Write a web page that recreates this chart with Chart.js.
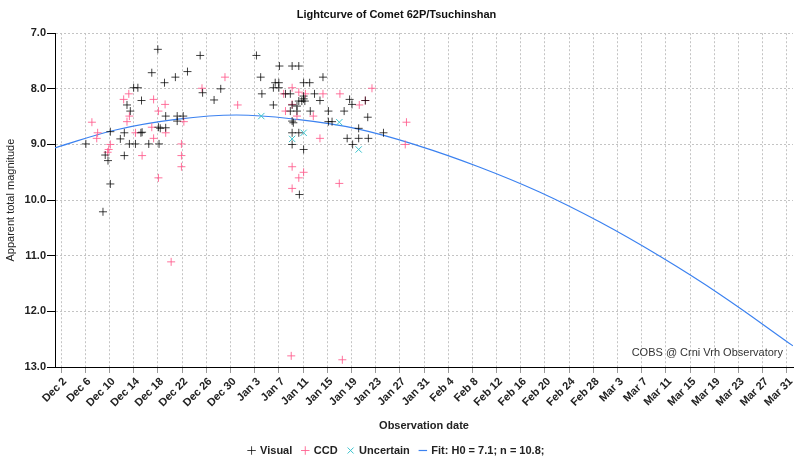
<!DOCTYPE html>
<html>
<head>
<meta charset="utf-8">
<script src="https://cdn.jsdelivr.net/npm/chart.js@4.4.1/dist/chart.umd.min.js"></script>
<style>
  html, body { margin: 0; padding: 0; background: #fff; }
  #wrap { width: 800px; height: 466px; }
</style>
</head>
<body>
<div id="wrap"><canvas id="lightcurve"></canvas></div>
<script>
// days counted from Dec 1 (day 0) to Apr 1 (day 122)
const xTickDays = [1, 5, 9, 13, 17, 21, 25, 29, 33, 37, 41, 45, 49, 53, 57, 61,
    65, 69, 73, 77, 81, 85, 89, 93, 97, 101, 105, 109, 113, 117, 121];
const xTickLabels = ['Dec 2', 'Dec 6', 'Dec 10', 'Dec 14', 'Dec 18', 'Dec 22', 'Dec 26', 'Dec 30',
    'Jan 3', 'Jan 7', 'Jan 11', 'Jan 15', 'Jan 19', 'Jan 23', 'Jan 27', 'Jan 31',
    'Feb 4', 'Feb 8', 'Feb 12', 'Feb 16', 'Feb 20', 'Feb 24', 'Feb 28',
    'Mar 3', 'Mar 7', 'Mar 11', 'Mar 15', 'Mar 19', 'Mar 23', 'Mar 27', 'Mar 31'];

const visualDays = [16.0, 13.0, 13.7, 14.3, 11.9, 12.45, 9.15, 11.46, 14.2, 14.4, 10.8, 5.1, 12.3, 13.3,
    15.5, 8.3, 11.46, 8.76, 9.15, 7.93,
    17.0, 24.0, 19.9, 21.9, 18.1, 24.4, 27.4, 26.3, 18.3, 20.2, 21.2, 20.2, 17.1, 17.4, 18.3, 17.2,
    33.3, 34.0, 34.2, 36.1,
    37.1, 39.2, 40.3, 44.3, 36.4, 37.0, 41.1, 42.1, 36.1, 37.0, 38.1, 38.9, 41.1, 41.1, 41.3, 40.3, 40.8,
    42.9, 43.8, 39.2, 40.0, 38.9, 40.0, 42.2, 45.2, 47.8, 48.7, 49.1, 51.3, 51.7, 39.2, 39.4, 45.2, 45.8,
    50.2, 39.2, 40.3, 39.2, 41.1, 48.3, 50.2, 51.8, 49.2, 54.3, 40.4];
const visualMags = [7.71, 7.98, 7.98, 8.21, 8.29, 8.40, 8.77, 8.79, 8.79, 8.78, 8.90, 8.99, 8.99, 8.99,
    8.99, 9.19, 9.20, 9.29, 9.71, 10.21,
    7.29, 7.40, 7.79, 7.69, 7.89, 8.07, 8.00, 8.20, 8.49, 8.49, 8.49, 8.58, 8.69, 8.71, 8.70, 8.99,
    7.40, 7.79, 8.09, 8.29,
    7.59, 7.59, 7.59, 7.79, 7.89, 7.89, 7.89, 7.89, 7.98, 7.98, 8.09, 8.09, 8.13, 8.18, 8.22, 8.22, 8.22,
    8.09, 8.21, 8.29, 8.31, 8.40, 8.40, 8.40, 8.40, 8.40, 8.19, 8.28, 8.21, 8.51, 8.58, 8.61, 8.59, 8.59,
    8.71, 8.79, 8.79, 9.00, 9.09, 8.89, 8.89, 8.89, 9.00, 8.79, 9.90];

const ccdDays = [6.1, 7.05, 6.9, 9.15, 8.87, 8.7, 12.2, 11.35, 12.3, 11.9, 13.3, 14.4, 16.3, 16.0, 16.3,
    28.1, 24.3, 30.2, 18.2, 17.1, 18.3, 21.3, 20.9, 20.9, 20.9, 17.1, 19.2,
    39.2, 37.8, 40.3, 41.4, 44.3, 47.1, 52.4, 50.3, 38.1, 39.2, 40.0, 42.7, 43.8, 39.2, 41.1, 40.3, 39.2,
    47.0, 39.05, 47.5, 58.1, 57.9, 51.3];
const ccdMags = [8.60, 8.79, 8.89, 9.00, 9.09, 9.14, 8.09, 8.19, 8.49, 8.59, 8.79, 9.20, 8.19, 8.69, 8.89,
    7.79, 7.99, 8.29, 8.28, 8.40, 8.79, 8.59, 8.99, 9.20, 9.40, 9.60, 11.11,
    7.98, 8.09, 8.06, 8.09, 8.09, 8.09, 7.99, 8.29, 8.40, 8.28, 8.49, 8.49, 8.89, 9.40, 9.50, 9.60, 9.79,
    9.70, 12.80, 12.87, 8.60, 9.00, 8.21];

const uncertainDays = [34.1, 47.0, 41.1, 39.2, 50.2];
const uncertainMags = [8.49, 8.60, 8.79, 8.90, 9.09];

// fitted curve, every 10 days
const fitDays = [0, 10, 20, 30, 40, 50, 60, 70, 80, 90, 100, 110, 122];
const fitMags = [9.06, 8.74, 8.55, 8.47, 8.55, 8.72, 9.02, 9.40, 9.85, 10.39, 11.01, 11.70, 12.62];

function toPoints(xs, ys) {
    return xs.map(function (x, i) { return { x: x, y: ys[i] }; });
}

const FONT = 'Liberation Sans, Arial, sans-serif';

const watermark = {
    id: 'watermark',
    afterDatasetsDraw: function (chart) {
        const ctx = chart.ctx;
        const area = chart.chartArea;
        ctx.save();
        ctx.font = '11px ' + FONT;
        ctx.fillStyle = '#333';
        ctx.textAlign = 'right';
        ctx.textBaseline = 'middle';
        ctx.fillText('COBS @ Crni Vrh Observatory', area.right - 10, area.bottom - 14);
        ctx.restore();
    }
};

const config = {
    type: 'scatter',
    data: {
        datasets: [{
            label: 'Visual',
            data: toPoints(visualDays, visualMags),
            pointStyle: 'cross',
            pointRadius: 4,
            borderWidth: 1,
            borderColor: 'rgba(0, 0, 0, 0.75)',
            backgroundColor: 'rgba(0, 0, 0, 0.75)'
        }, {
            label: 'CCD',
            data: toPoints(ccdDays, ccdMags),
            pointStyle: 'cross',
            pointRadius: 4,
            borderWidth: 1,
            borderColor: 'rgba(255, 90, 140, 0.85)',
            backgroundColor: 'rgba(255, 90, 140, 0.85)'
        }, {
            label: 'Uncertain',
            data: toPoints(uncertainDays, uncertainMags),
            pointStyle: 'crossRot',
            pointRadius: 4.5,
            borderWidth: 1,
            borderColor: 'rgb(60, 195, 205)',
            backgroundColor: 'rgb(60, 195, 205)'
        }, {
            label: 'Fit: H0 = 7.1; n = 10.8;',
            type: 'line',
            data: toPoints(fitDays, fitMags),
            pointStyle: 'line',
            pointRadius: 0,
            borderWidth: 1.2,
            borderColor: 'rgb(60, 130, 240)',
            backgroundColor: 'rgb(60, 130, 240)',
            tension: 0.4,
            fill: false
        }]
    },
    options: {
        responsive: true,
        maintainAspectRatio: false,
        animation: false,
        layout: { padding: { right: 7 } },
        plugins: {
            title: {
                display: true,
                text: 'Lightcurve of Comet 62P/Tsuchinshan',
                color: '#111',
                font: { family: FONT, size: 11, weight: 'bold' },
                padding: { top: 8, bottom: 12 }
            },
            legend: {
                position: 'bottom',
                labels: {
                    usePointStyle: true,
                    boxWidth: 6,
                    boxHeight: 6,
                    padding: 10,
                    color: '#222',
                    font: { family: FONT, size: 11, weight: 'bold' }
                }
            },
            tooltip: { enabled: false }
        },
        scales: {
            x: {
                type: 'linear',
                min: 0,
                max: 122,
                afterBuildTicks: function (scale) {
                    scale.ticks = xTickDays.map(function (d) { return { value: d }; });
                },
                afterFit: function (scale) { scale.height = 68; },
                ticks: {
                    autoSkip: false,
                    minRotation: 45,
                    maxRotation: 45,
                    padding: 2,
                    labelOffset: 4,
                    color: '#222',
                    font: { family: FONT, size: 11, weight: 'bold' },
                    callback: function (value) {
                        const i = xTickDays.indexOf(value);
                        return i >= 0 ? xTickLabels[i] : '';
                    }
                },
                grid: {
                    color: '#c4c4c4',
                    tickColor: '#999',
                    tickLength: 6
                },
                border: { display: true, color: '#000', width: 1, dash: [2, 2] },
                title: {
                    display: true,
                    text: 'Observation date',
                    color: '#222',
                    font: { family: FONT, size: 11, weight: 'bold' },
                    padding: { top: 2, bottom: 2 }
                }
            },
            y: {
                reverse: true,
                min: 7,
                max: 13,
                afterFit: function (scale) { scale.width = 55; },
                ticks: {
                    stepSize: 1,
                    padding: 1,
                    color: '#222',
                    font: { family: FONT, size: 11, weight: 'bold' },
                    callback: function (value) { return value.toFixed(1); }
                },
                grid: {
                    color: '#c4c4c4',
                    tickColor: '#000',
                    tickLength: 8
                },
                border: { display: true, color: '#000', width: 1, dash: [2, 2] },
                title: {
                    display: true,
                    text: 'Apparent total magnitude',
                    color: '#222',
                    font: { family: FONT, size: 11 },
                    padding: { top: 4, bottom: 2 }
                }
            }
        }
    },
    plugins: [watermark]
};

window.lightcurveChart = new Chart(document.getElementById('lightcurve'), config);
</script>
</body>
</html>
